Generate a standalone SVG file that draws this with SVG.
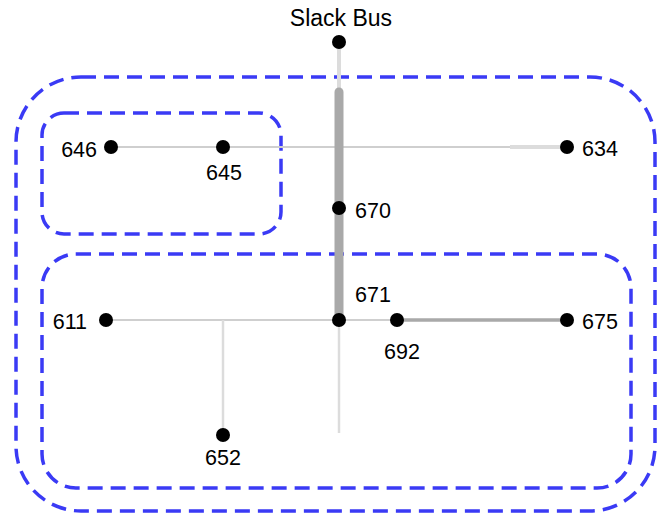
<svg xmlns="http://www.w3.org/2000/svg" width="662" height="521" viewBox="0 0 662 521">
<style>
.grp{fill:none;stroke:#3a3af5;stroke-width:3.5;stroke-dasharray:15 8}
.thin{stroke:#cfcfcf;stroke-width:2;fill:none}
.lite{stroke:#dcdcdc;stroke-width:2.5;fill:none}
.thick{stroke:#a9a9a9;stroke-linecap:round;fill:none}
.dot{fill:#000}
text{font-family:"Liberation Sans",Arial,sans-serif;font-size:21.5px;fill:#000}
</style>
<rect width="662" height="521" fill="#fff"/>
<g id="groups">
<rect class="grp" x="16" y="77" width="639" height="434" rx="65"/>
<rect class="grp" x="42" y="254" width="589" height="234" rx="34"/>
<rect class="grp" x="42" y="113" width="239" height="121" rx="22"/>
</g>
<g id="connectors">
<line class="lite" x1="339" y1="42" x2="339" y2="92" style="stroke-width:4"/>
<line class="thin" x1="110" y1="147" x2="567" y2="147"/>
<line class="lite" x1="510" y1="147" x2="567" y2="147" style="stroke-width:4"/>
<line class="thin" x1="105" y1="320" x2="397" y2="320"/>
<line class="thick" x1="397" y1="320" x2="567" y2="320" style="stroke-width:3.5"/>
<line class="lite" x1="223" y1="320" x2="223" y2="435"/>
<line class="lite" x1="339" y1="320" x2="339" y2="433"/>
<line class="thick" x1="339" y1="92" x2="339" y2="320" style="stroke-width:9"/>
</g>
<g id="slack"><circle class="dot" cx="339" cy="42" r="7"/><text x="341" y="26" text-anchor="middle" style="font-size:23px">Slack Bus</text></g>
<g id="n646"><circle class="dot" cx="111" cy="147" r="7"/><text x="97" y="157" text-anchor="end">646</text></g>
<g id="n645"><circle class="dot" cx="223" cy="147" r="7"/><text x="224" y="180" text-anchor="middle">645</text></g>
<g id="n634"><circle class="dot" cx="567" cy="147" r="7"/><text x="582" y="156">634</text></g>
<g id="n670"><circle class="dot" cx="339" cy="208" r="7"/><text x="355" y="218">670</text></g>
<g id="n671"><circle class="dot" cx="339" cy="320" r="7"/><text x="355" y="302">671</text></g>
<g id="n692"><circle class="dot" cx="397" cy="320" r="7"/><text x="402" y="359" text-anchor="middle">692</text></g>
<g id="n675"><circle class="dot" cx="567" cy="320" r="7"/><text x="582" y="329">675</text></g>
<g id="n611"><circle class="dot" cx="106" cy="320" r="7"/><text x="87" y="329" text-anchor="end">611</text></g>
<g id="n652"><circle class="dot" cx="223" cy="435" r="7"/><text x="223" y="465" text-anchor="middle">652</text></g>
</svg>
